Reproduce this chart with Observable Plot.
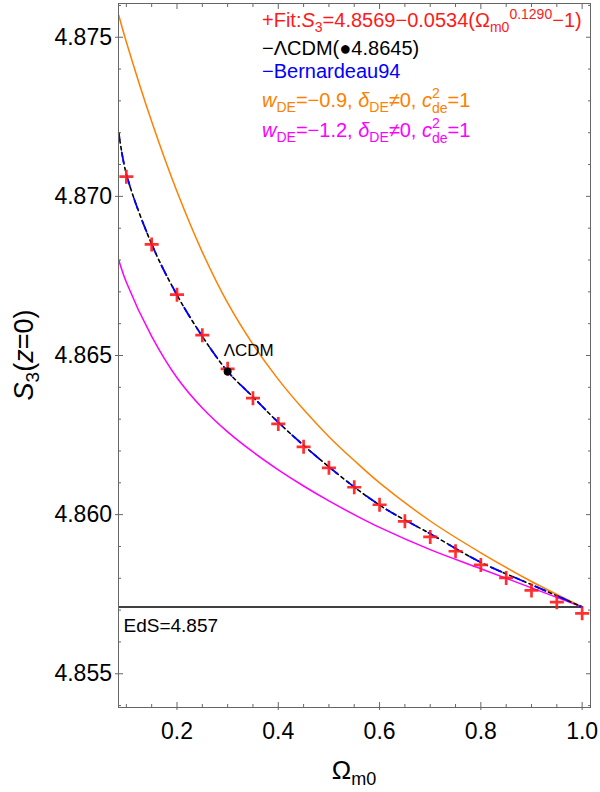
<!DOCTYPE html>
<html><head><meta charset="utf-8">
<script src="https://cdn.jsdelivr.net/npm/d3@7"></script>
<script src="https://cdn.jsdelivr.net/npm/@observablehq/plot@0.6"></script>
<style>
body{margin:0;background:#fff;}
#wrap{width:600px;height:792px;}
</style></head><body><div id="wrap"></div>
<script>
// ---- data ----
const omegaLcdm = [0.085, 0.1, 0.15, 0.2, 0.25, 0.3, 0.35, 0.4, 0.5, 0.6, 0.7, 0.8, 0.9, 1.0];
const lcdmS3    = [4.8720, 4.8707, 4.8685, 4.8669, 4.8656, 4.8645, 4.8637, 4.8629, 4.8615, 4.8603, 4.8594, 4.8585, 4.8578, 4.8571];
const bernS3    = [4.8720, 4.8707, 4.8685, 4.8669, 4.8656, 4.8645, 4.8637, 4.8629, 4.8615, 4.8603, 4.8594, 4.8585, 4.8578, 4.8571];
const omegaDE   = [0.085, 0.1, 0.15, 0.2, 0.25, 0.3, 0.35, 0.4, 0.45, 0.5, 0.55, 0.6, 0.7, 0.8, 0.9, 1.0];
const w09S3     = [4.87569, 4.87485, 4.87235, 4.87015, 4.86825, 4.86665, 4.86535, 4.86425, 4.8633, 4.86245, 4.8617, 4.8610, 4.8598, 4.8588, 4.8579, 4.8571];
const w12S3     = [4.8680, 4.8673, 4.8656, 4.8643, 4.86335, 4.8626, 4.86197, 4.86141, 4.8609, 4.86043, 4.8600, 4.8596, 4.8589, 4.8583, 4.8577, 4.8571];
const fitOmega  = [0.1, 0.15, 0.2, 0.25, 0.3, 0.35, 0.4, 0.45, 0.5, 0.55, 0.6, 0.65, 0.7, 0.75, 0.8, 0.85, 0.9, 0.95, 1.0];
const fitS3     = [4.87062, 4.86849, 4.86691, 4.86564, 4.86458, 4.86366, 4.86285, 4.86213, 4.86147, 4.86086, 4.86031, 4.85979, 4.85930, 4.85885, 4.85842, 4.85801, 4.85762, 4.85725, 4.85690];
const lcdmPoint = {omega: 0.3, s3: 4.8645, label: "ΛCDM"};
const edsValue  = 4.8571;
const edsLabel  = "EdS=4.857";
const xDomain   = [0.0845, 1.0165];
const yDomain   = [4.85394, 4.87606];
const xMajor    = [0.2, 0.4, 0.6, 0.8, 1.0];
const xMinor    = [0.1, 0.15, 0.25, 0.3, 0.35, 0.45, 0.5, 0.55, 0.65, 0.7, 0.75, 0.85, 0.9, 0.95];
const yMajor    = [4.855, 4.860, 4.865, 4.870, 4.875];
const yMinor    = [4.854, 4.856, 4.857, 4.858, 4.859, 4.861, 4.862, 4.863, 4.864, 4.866, 4.867, 4.868, 4.869, 4.871, 4.872, 4.873, 4.874, 4.876];

const C = {fit: "#ff1a1a", lcdm: "#000", bern: "#0000ff", w09: "#ff8000", w12: "#ff00ff"};

const curve = (xs, ys) => xs.map((o, i) => ({o, s: ys[i]}));
const fitData = fitOmega.map((o, i) => ({o, s: fitS3[i]}));

const plusSym = {draw(ctx, size) {
  const r = Math.sqrt(size / Math.PI);
  ctx.moveTo(-r, 0); ctx.lineTo(r, 0); ctx.moveTo(0, -r); ctx.lineTo(0, r);
}};
const blank = () => "";
const font = "Liberation Sans, Arial, Helvetica, sans-serif";

const svg = Plot.plot({
  width: 600, height: 792,
  marginLeft: 118, marginRight: 10, marginTop: 3, marginBottom: 85,
  x: {domain: xDomain}, y: {domain: yDomain},
  style: {fontFamily: font, background: "#fff", color: "#000", overflow: "visible"},
  marks: [
    Plot.ruleY([edsValue], {x1: xDomain[0], x2: 1, stroke: "#000", strokeWidth: 1.5}),
    Plot.line(curve(omegaDE, w09S3), {x: "o", y: "s", stroke: C.w09, strokeWidth: 1.5, curve: "catmull-rom"}),
    Plot.line(curve(omegaDE, w12S3), {x: "o", y: "s", stroke: C.w12, strokeWidth: 1.5, curve: "catmull-rom"}),
    Plot.line(curve(omegaLcdm, lcdmS3), {x: "o", y: "s", stroke: C.lcdm, strokeWidth: 1.6, strokeDasharray: "3.5,3.5", curve: "catmull-rom"}),
    Plot.line(curve(omegaLcdm, bernS3), {x: "o", y: "s", stroke: C.bern, strokeWidth: 1.8, strokeDasharray: "11,13", strokeDashoffset: 4, curve: "catmull-rom"}),
    Plot.dot(fitData, {x: "o", y: "s", symbol: plusSym, r: 7, stroke: C.fit, strokeOpacity: 0.9, strokeWidth: 2.7, fill: "none"}),
    Plot.dot([lcdmPoint], {x: "omega", y: "s3", r: 4, fill: "#000"}),
    Plot.text([lcdmPoint], {x: "omega", y: "s3", text: "label", textAnchor: "start", dx: -4, dy: -21, fontSize: 17, fill: "#000"}),
    Plot.text([edsValue], {y: d => d, text: () => edsLabel, frameAnchor: "left", textAnchor: "start", dx: 5, dy: 19, fontSize: 19, fill: "#000"}),
    Plot.frame({stroke: "#666", strokeWidth: 1}),
    // bottom axis
    Plot.axisX({anchor: "bottom", ticks: xMajor, tickSize: -5, tickPadding: 20, tickFormat: d3.format(".1f"), fontSize: 23, label: null, stroke: "#666", fill: "#000"}),
    Plot.axisX({anchor: "bottom", ticks: xMajor, tickSize: 3, tickFormat: blank, label: null, stroke: "#666"}),
    Plot.axisX({anchor: "bottom", ticks: xMinor, tickSize: -3, tickFormat: blank, label: null, stroke: "#666"}),
    Plot.axisX({anchor: "top", ticks: xMajor, tickSize: -5, tickFormat: blank, label: null, stroke: "#666"}),
    Plot.axisX({anchor: "top", ticks: xMinor, tickSize: -3, tickFormat: blank, label: null, stroke: "#666"}),
    // left axis
    Plot.axisY({anchor: "left", ticks: yMajor, tickSize: -5, tickPadding: 11.5, tickFormat: d3.format(".3f"), fontSize: 23, label: null, stroke: "#666", fill: "#000"}),
    Plot.axisY({anchor: "left", ticks: yMajor, tickSize: 3, tickFormat: blank, label: null, stroke: "#666"}),
    Plot.axisY({anchor: "left", ticks: yMinor, tickSize: -3, tickFormat: blank, label: null, stroke: "#666"}),
    Plot.axisY({anchor: "right", ticks: yMajor, tickSize: -5, tickFormat: blank, label: null, stroke: "#666"}),
    Plot.axisY({anchor: "right", ticks: yMinor, tickSize: -3, tickFormat: blank, label: null, stroke: "#666"})
  ]
});
document.getElementById("wrap").appendChild(svg);

// ---- rich text (legend, axis labels) ----
const root = d3.select(svg).append("g").attr("font-family", font).attr("text-anchor", "start");
function rich(x, y, color, size, parts, transform) {
  const t = root.append("text").attr("x", x).attr("y", y).attr("fill", color).attr("font-size", size).attr("text-anchor", "start");
  if (transform) t.attr("transform", transform).attr("text-anchor", "middle");
  for (const p of parts) {
    const s = t.append("tspan").text(p.t);
    if (p.i) s.attr("font-style", "italic");
    if (p.s) s.attr("font-size", p.s);
    if (p.dy) s.attr("dy", p.dy);
    if (p.dx) s.attr("dx", p.dx);
  }
  return t;
}
const L = 262, fs = 20, ss = 14;
rich(L, 27, C.fit, fs, [
  {t: "+Fit:"}, {t: "S", i: 1}, {t: "3", s: ss, dy: 5}, {t: "=4.8569−0.0534(", dy: -5},
  {t: "Ω"}, {t: "m0", s: ss, dy: 5}, {t: "0.1290", s: ss, dy: -13}, {t: "−1)", dy: 8}
]);
rich(L, 55, C.lcdm, fs, [{t: "−ΛCDM(●4.8645)"}]);
rich(L, 78, C.bern, fs, [{t: "−Bernardeau94"}]);
function wLine(y, color, w) {
  rich(L, y, color, fs, [
    {t: "w", i: 1}, {t: "DE", s: ss, dy: 5}, {t: "=" + w + ", ", dy: -5},
    {t: "δ", i: 1}, {t: "DE", s: ss, dy: 5}, {t: "≠0, ", dy: -5},
    {t: "c", i: 1}, {t: "2", s: ss, dy: -9}, {t: "de", s: ss, dx: -7.8, dy: 15}, {t: "=1", dy: -6}
  ]);
}
wLine(107, C.w09, "−0.9");
wLine(137, C.w12, "−1.2");
// y label
rich(0, 0, "#000", 27, [
  {t: "S", i: 1}, {t: "3", s: 19, dy: 6}, {t: "(", dy: -6}, {t: "z", i: 1}, {t: "=0)"}
], "translate(33,355) rotate(-90)");
// x label
rich(354, 779, "#000", 26, [{t: "Ω"}, {t: "m0", s: 18, dy: 6}]).attr("text-anchor", "middle");
</script>
</body></html>
